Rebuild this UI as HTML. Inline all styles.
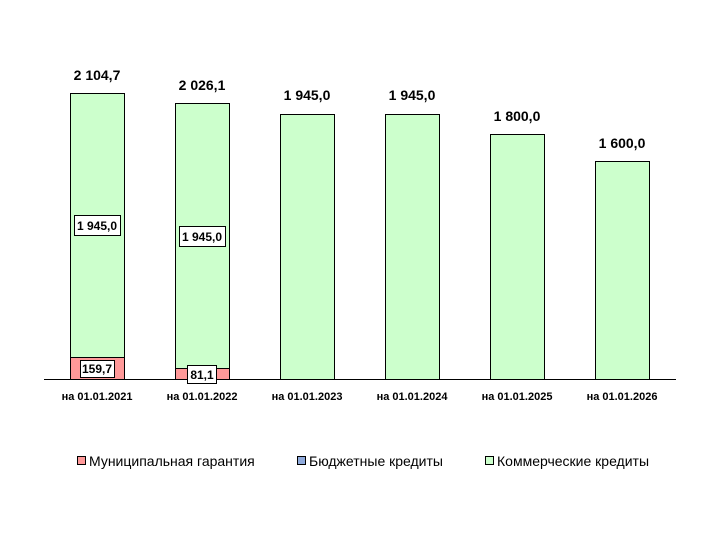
<!DOCTYPE html>
<html><head><meta charset="utf-8"><style>
body{margin:0;background:#fff}
svg{display:block;font-family:"Liberation Sans","DejaVu Sans",sans-serif}
</style></head><body>
<svg width="720" height="540" viewBox="0 0 720 540" xmlns="http://www.w3.org/2000/svg">
<line x1="44" y1="379.5" x2="676" y2="379.5" stroke="#000" stroke-width="1"/>
<g stroke="#000" stroke-width="1" fill="#ccffcc">
<rect x="70.5" y="93.5" width="54" height="264"/>
<rect x="175.5" y="103.5" width="54" height="265"/>
<rect x="280.5" y="114.5" width="54" height="265"/>
<rect x="385.5" y="114.5" width="54" height="265"/>
<rect x="490.5" y="134.5" width="54" height="245"/>
<rect x="595.5" y="161.5" width="54" height="218"/>
</g>
<g stroke="#000" stroke-width="1" fill="#ff9999">
<rect x="70.5" y="357.5" width="54" height="22"/>
<rect x="175.5" y="368.5" width="54" height="11"/>
</g>
<g font-size="14" font-weight="bold" text-anchor="middle" fill="#000">
<text x="97" y="80">2 104,7</text>
<text x="202" y="90">2 026,1</text>
<text x="307" y="100">1 945,0</text>
<text x="412" y="100">1 945,0</text>
<text x="517" y="121">1 800,0</text>
<text x="622" y="148">1 600,0</text>
</g>
<g stroke="#000" stroke-width="1" fill="#fff">
<rect x="74.5" y="215.5" width="46" height="20"/>
<rect x="179.5" y="226.5" width="46" height="20"/>
<rect x="80.5" y="360.5" width="34" height="17"/>
<rect x="187.5" y="365.5" width="29" height="18"/>
</g>
<g font-size="12" font-weight="bold" text-anchor="middle" fill="#000">
<text x="97" y="230">1 945,0</text>
<text x="202" y="241">1 945,0</text>
<text x="97" y="373">159,7</text>
<text x="202" y="379">81,1</text>
</g>
<g font-size="11" font-weight="bold" text-anchor="middle" fill="#000">
<text x="97" y="400">на 01.01.2021</text>
<text x="202" y="400">на 01.01.2022</text>
<text x="307" y="400">на 01.01.2023</text>
<text x="412" y="400">на 01.01.2024</text>
<text x="517" y="400">на 01.01.2025</text>
<text x="622" y="400">на 01.01.2026</text>
</g>
<g stroke="#000" stroke-width="1">
<rect x="77.5" y="456.5" width="8" height="8" fill="#ff9999"/>
<rect x="297.5" y="456.5" width="8" height="8" fill="#8faadc"/>
<rect x="485.5" y="456.5" width="8" height="8" fill="#ccffcc"/>
</g>
<g font-size="14" fill="#000">
<text x="89" y="466">Муниципальная гарантия</text>
<text x="309" y="466">Бюджетные кредиты</text>
<text x="497" y="466">Коммерческие кредиты</text>
</g>
</svg>
</body></html>
